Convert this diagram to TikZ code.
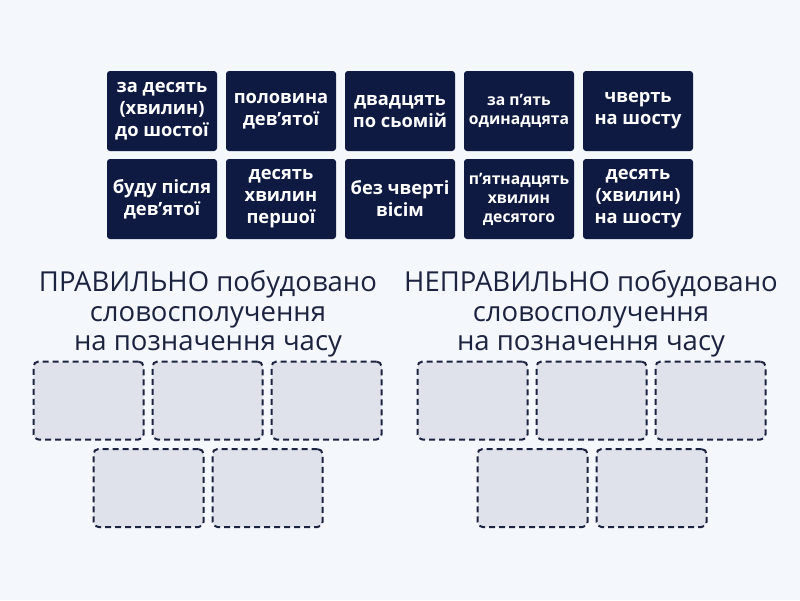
\documentclass[tikz,border=0pt]{standalone}
\usepackage{fontspec}
\setmainfont{Open Sans}
\definecolor{bgcol}{HTML}{F4F7FC}
\definecolor{cardcol}{HTML}{0F1A42}
\definecolor{slotcol}{HTML}{DFE2EA}
\definecolor{inkcol}{HTML}{1B2340}

\begin{document}
\begin{tikzpicture}
  [x=1pt,y=-1pt,
   card/.style={rectangle,rounded corners=3pt,fill=cardcol,text=white,
     minimum width=110pt,minimum height=80pt,align=center,
     font=\fontsize{18.3}{22}\selectfont\bfseries,inner sep=2pt},
   small/.style={font=\fontsize{15.7}{19}\selectfont\bfseries},
   slot/.style={rectangle,rounded corners=5pt,fill=slotcol,draw=inkcol,
     line width=2pt,dash pattern=on 6pt off 4pt,
     minimum width=110pt,minimum height=78pt},
   heading/.style={align=center,text=inkcol,
     font=\fontsize{27.5}{29.5}\selectfont}]
  \fill[bgcol] (0,0) rectangle (800,600);
  \useasboundingbox (0,0) rectangle (800,600);
  % cards
  \node[card] (c1) at (162,111) {за десять\\(хвилин)\\до шостої};
  \node[card] (c2) at (281,111) {половина\\дев’ятої};
  \node[card] (c3) at (400,111) {двадцять\\по сьомій};
  \node[card,small] (c4) at (519,111) {за п’ять\\одинадцята};
  \node[card] (c5) at (638,111) {чверть\\на шосту};
  \node[card] (c6) at (162,199) {буду після\\дев’ятої};
  \node[card] (c7) at (281,199) {десять\\хвилин\\першої};
  \node[card] (c8) at (400,199) {без чверті\\вісім};
  \node[card,small] (c9) at (519,199) {п’ятнадцять\\хвилин\\десятого};
  \node[card] (c10) at (638,199) {десять\\(хвилин)\\на шосту};
  % headings
  \node[heading] (good) at (208,314)
    {ПРАВИЛЬНО побудовано\\словосполучення\\на позначення часу};
  \node[heading] (bad) at (591,314)
    {НЕПРАВИЛЬНО побудовано\\словосполучення\\на позначення часу};
  % slots
  \foreach \name/\x/\y in {a1/88.5/400.5,a2/207.5/400.5,a3/326.5/400.5,
      a4/148.5/488,a5/267.5/488,b1/472.5/400.5,b2/591.5/400.5,
      b3/710.5/400.5,b4/532.5/488,b5/651.5/488}
    \node[slot] (\name) at (\x,\y) {};
\end{tikzpicture}
\end{document}
